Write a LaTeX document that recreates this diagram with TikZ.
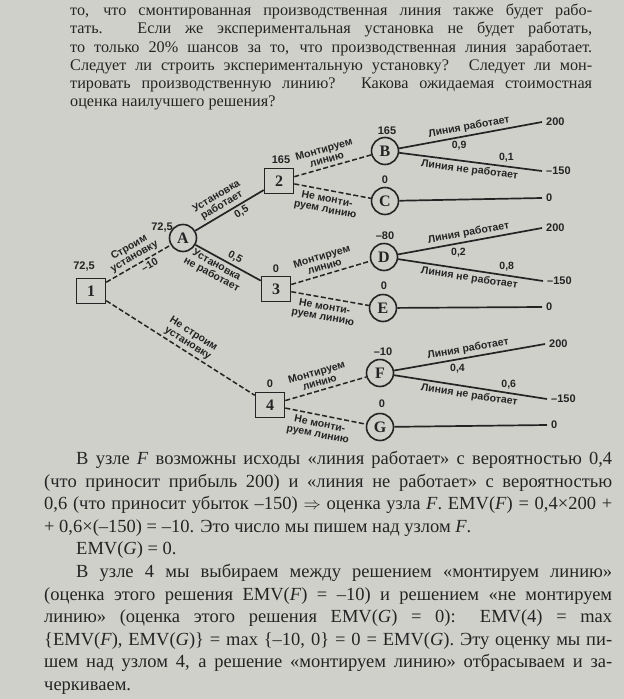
\documentclass[tikz,border=0pt]{standalone}
\usepackage{fontspec}
\setmainfont{Liberation Serif}
\newfontfamily\labfont[Ligatures=TeX]{Liberation Sans}
\usetikzlibrary{positioning}

\definecolor{paper}{RGB}{208,208,203}
\definecolor{ink}{RGB}{36,36,36}

% one justified line of given width
\newcommand\jl[2]{\makebox[#1][s]{#2}}

\begin{document}
\begin{tikzpicture}[x=1pt,y=-1pt,
  dec/.style={draw=ink,line width=1.6pt,minimum width=29pt,minimum height=25pt,inner sep=0pt,text=ink,font=\fontsize{16}{16}\selectfont\bfseries},
  chance/.style={circle,draw=ink,line width=1.6pt,minimum size=27pt,inner sep=0pt,text=ink,font=\fontsize{16}{16}\selectfont\bfseries},
  choice/.style={draw=ink,line width=1.5pt,dash pattern=on 5pt off 2.5pt},
  event/.style={draw=ink,line width=1.7pt},
  lab/.style={font=\labfont\fontsize{10.5}{10.5}\selectfont\bfseries,align=center,inner sep=1.5pt,text=ink},
  val/.style={font=\labfont\fontsize{11}{11}\selectfont\bfseries,inner sep=1pt,text=ink}]
\useasboundingbox (0,0) rectangle (624,699);
\fill[paper] (0,0) rectangle (624,699);

% text above the tree
\node[anchor=north west,inner sep=0pt,align=left,text=ink,font=\fontsize{16.2}{18.2}\selectfont] (top) at (70,4) {%
\jl{522pt}{то, что смонтированная производственная линия также будет рабо-}\\
\jl{522pt}{тать. Если же экспериментальная установка не будет работать,}\\
\jl{522pt}{то только 20\% шансов за то, что производственная линия заработает.}\\
\jl{522pt}{Следует ли строить экспериментальную установку? Следует ли мон-}\\
\jl{522pt}{тировать производственную линию? Какова ожидаемая стоимостная}\\
оценка наилучшего решения?};

% decision and chance nodes
\node[dec] (n1) at (91,291) {1};
\node[chance] (nA) at (183,238) {A};
\node[dec] (n2) at (279,181) {2};
\node[dec] (n3) at (276,289) {3};
\node[dec] (n4) at (270,405) {4};
\node[chance] (nB) at (385,151) {B};
\node[chance] (nC) at (385,201) {C};
\node[chance] (nD) at (384,257) {D};
\node[chance] (nE) at (383,308) {E};
\node[chance] (nF) at (380,373) {F};
\node[chance] (nG) at (380,427) {G};

% end points and payoffs
\foreach \t/\x/\y/\v in {B1/542/122/200,B2/542/171/–150,C/542/198/0,D1/542/228/200,D2/543/281/–150,E/542/307/0,F1/545/344/200,F2/547/399/–150,G/547/425/0}{
  \coordinate (t\t) at (\x,\y);
  \node[val,right=3pt] (v\t) at (\x,\y) {\v};
}

% estimates over the nodes
\foreach \n/\x/\y/\v in {1/84/267/{72,5},A/162/228/{72,5},2/281/160/165,3/276/269/0,4/270/384/0,B/387/131/165,C/385/180/0,D/385/236/–80,E/384/286/0,F/383/352/–10,G/382/404/0}
  \node[val] (e\n) at (\x,\y) {\v};

% decisions
\draw[choice] (n1) -- node[lab,sloped,above=1pt,pos=.5] (l1A) {Строим\\установку} node[lab,sloped,below=1pt,pos=.62] (c1A) {–10} (nA);
\draw[choice] (n1) -- node[lab,sloped,above=1pt,pos=.52] (l14) {Не строим\\установку} (n4);
\foreach \s/\u/\w in {2/B/C,3/D/E,4/F/G}{
  \draw[choice] (n\s) -- node[lab,sloped,above=2pt,pos=.45] (l\s\u) {Монтируем\\линию} (n\u);
  \draw[choice] (n\s) -- node[lab,sloped,below=2.5pt,pos=.45] (l\s\w) {Не монти-\\руем линию} (n\w);
}

% chance branches
\draw[event] (nA) -- node[lab,sloped,above=1pt,pos=.45] (lA2) {Установка\\работает} node[lab,sloped,below=1pt,pos=.62] (pA2) {0,5} (n2);
\draw[event] (nA) -- node[lab,sloped,above=1pt,pos=.55] (pA3) {0,5} node[lab,sloped,below=1pt,pos=.38] (lA3) {Установка\\не работает} (n3);
\foreach \u/\p/\q in {B/{0,9}/{0,1},D/{0,2}/{0,8},F/{0,4}/{0,6}}{
  \draw[event] (n\u) -- node[lab,sloped,above=1pt,pos=.5] (w\u) {Линия работает} node[lab,below=2pt,pos=.42] (p\u1) {\p} (t\u1);
  \draw[event] (n\u) -- node[lab,sloped,below=1pt,pos=.5] (f\u) {Линия не работает} node[lab,above=2pt,pos=.75] (p\u2) {\q} (t\u2);
}
\foreach \u in {C,E,G}
  \draw[event] (n\u) -- (t\u);

% text below the tree
\node[anchor=north west,inner sep=0pt,align=left,text=ink,font=\fontsize{18.5}{22.6}\selectfont] (bottom) at (44,451) {%
\hspace*{32pt}\jl{536pt}{В узле \textit{F} возможны исходы «линия работает» с вероятностью 0,4}\\
\jl{568pt}{(что приносит прибыль 200) и «линия не работает» с вероятностью}\\
\jl{568pt}{0,6 (что приносит убыток --150) $\Rightarrow$ оценка узла \textit{F}. EMV(\textit{F}) = 0,4×200 +}\\
+ 0,6×(--150) = --10. Это число мы пишем над узлом \textit{F}.\\
\hspace*{32pt}EMV(\textit{G}) = 0.\\
\hspace*{32pt}\jl{536pt}{В узле 4 мы выбираем между решением «монтируем линию»}\\
\jl{568pt}{(оценка этого решения EMV(\textit{F}) = --10) и решением «не монтируем}\\
\jl{568pt}{линию» (оценка этого решения EMV(\textit{G}) = 0): EMV(4) = max}\\
\jl{568pt}{\{EMV(\textit{F}), EMV(\textit{G})\} = max \{--10, 0\} = 0 = EMV(\textit{G}). Эту оценку мы пи-}\\
\jl{568pt}{шем над узлом 4, а решение «монтируем линию» отбрасываем и за-}\\
черкиваем.};
\end{tikzpicture}
\end{document}
